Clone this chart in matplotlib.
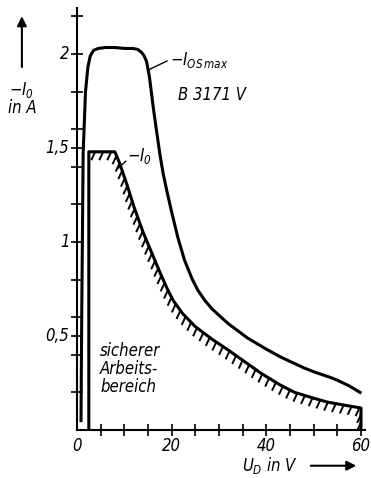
import numpy as np
import matplotlib
matplotlib.use("Agg")
import matplotlib.pyplot as plt

# -I_OS max curve
u_os = [0.85, 1.0, 1.3, 1.8, 2.3, 2.8, 3.5, 4.5, 6.0, 8.0, 10.0, 11.8, 12.8, 13.6,
        14.2, 14.7, 15.3, 16.2, 17.1, 17.5, 18.2, 19.0, 20.0, 21.3, 22.7, 24.3, 25.5,
        27.0, 28.5, 30.0, 32.0, 34.4, 36.0, 38.0, 40.0, 42.9, 45.0, 48.0, 50.0,
        53.5, 55.0, 57.5, 59.8]
i_os = [0.05, 0.6, 1.47, 1.8, 1.93, 1.99, 2.02, 2.03, 2.035, 2.035, 2.03, 2.03, 2.025, 2.01,
        1.99, 1.96, 1.88, 1.70, 1.54, 1.47, 1.365, 1.27, 1.16, 1.025, 0.905, 0.805, 0.745,
        0.69, 0.645, 0.61, 0.565, 0.52, 0.49, 0.46, 0.43, 0.39, 0.365, 0.33, 0.31,
        0.28, 0.265, 0.235, 0.20]

# -I_0 curve (safe operating area)
u_0 = [2.5, 2.5, 8.0, 9.0, 10.5, 12.0, 14.0, 16.0, 17.5, 19.0, 20.3, 22.3, 25.0, 28.7,
       31.7, 35.9, 39.0, 42.9, 46.0, 49.9, 53.0, 57.0, 60.0, 60.0]
i_0 = [0.0, 1.48, 1.48, 1.42, 1.31, 1.19, 1.05, 0.93, 0.84, 0.755, 0.69, 0.62, 0.55, 0.48,
       0.43, 0.355, 0.30, 0.24, 0.20, 0.17, 0.148, 0.13, 0.117, 0.0]

x_major = [0, 20, 40, 60]
y_labels = {0.5: "0,5", 1.0: "1", 1.5: "1,5", 2.0: "2"}

plt.rcParams['font.family'] = ['DejaVu Sans']
plt.rcParams['font.style'] = 'italic'
plt.rcParams['font.stretch'] = 'condensed'
plt.rcParams['mathtext.fontset'] = 'custom'
plt.rcParams['mathtext.rm'] = 'DejaVu Sans:italic'
plt.rcParams['mathtext.it'] = 'DejaVu Sans:italic'
plt.rcParams['mathtext.sf'] = 'DejaVu Sans:italic'

fig = plt.figure(figsize=(3.71, 4.78), dpi=100)
ax = fig.add_axes([0.2075, 0.1004, 0.7757, 0.8828])
ax.set_xlim(0, 60.8)
ax.set_ylim(0, 2.245)

for s in ['top', 'right']:
    ax.spines[s].set_visible(False)
for s in ['left', 'bottom']:
    ax.spines[s].set_linewidth(1.5)

xt = np.arange(5, 61, 5)
ax.set_xticks(xt)
ax.set_xticklabels(["" for v in xt])
yt = sorted(set([round(v, 1) for v in np.arange(0.2, 2.3, 0.2)] + [0.5, 1.5]))
ax.set_yticks(yt)
ax.set_yticklabels(["" for v in yt])
ax.tick_params(direction='inout', length=8, width=1.2)

for v in x_major:
    ax.text(v, -0.035, str(v), ha='center', va='top', fontsize=12)
for v, s in y_labels.items():
    ax.text(-1.6, v, s, ha='right', va='center', fontsize=12)

ax.plot(u_os, i_os, color='black', lw=2.2, solid_joinstyle='round')
ax.plot(u_0, i_0, color='black', lw=2.2, solid_joinstyle='round', solid_capstyle='butt')

# hatching on the inside of the -I_0 curve
fig.canvas.draw()
pts = ax.transData.transform(np.column_stack([u_0[2:], i_0[2:]]))
pts = np.vstack([ax.transData.transform((3.2, 1.48)), pts])
seg = np.sqrt((np.diff(pts, axis=0) ** 2).sum(axis=1))
dist = np.concatenate([[0], np.cumsum(seg)])
step = 8.0
for d in np.arange(3, dist[-1] - 4, step):
    x = np.interp(d, dist, pts[:, 0])
    y = np.interp(d, dist, pts[:, 1])
    p = ax.transData.inverted().transform([(x, y), (x - 3.5, y - 7.5)])
    ax.plot(p[:, 0], p[:, 1], color='black', lw=1.4)

# labels
ax.text(19.6, 1.97, r"$-I_{OS\,max}$", ha='left', va='center', fontsize=12)
ax.plot([15.0, 19.0], [1.915, 1.963], color='black', lw=1.0)
ax.text(21.3, 1.78, "B 3171 V", ha='left', va='center', fontsize=12)
ax.text(10.6, 1.46, r"$-I_0$", ha='left', va='center', fontsize=12)
ax.plot([8.6, 10.3], [1.39, 1.43], color='black', lw=1.0)
ax.text(4.9, 0.47, "sicherer\nArbeits-\nbereich", ha='left', va='top', fontsize=12, linespacing=1.0)

ax.text(34.9, -0.19, r"$U_D$ in V", ha='left', va='center', fontsize=12, clip_on=False)
ax.annotate("", xy=(59.6, -0.19), xytext=(48.8, -0.19), annotation_clip=False,
            arrowprops=dict(arrowstyle='-|>', color='black', lw=1.5, mutation_scale=14))

fig.text(0.059, 0.812, r"$-I_0$", ha='center', va='center', fontsize=12)
fig.text(0.059, 0.774, "in A", ha='center', va='center', fontsize=12)
fig.patches.append(matplotlib.patches.FancyArrowPatch((0.059, 0.854), (0.059, 0.972),
                   transform=fig.transFigure, arrowstyle='-|>', color='black', lw=1.5,
                   mutation_scale=14))

fig.savefig("out.png", dpi=100)
